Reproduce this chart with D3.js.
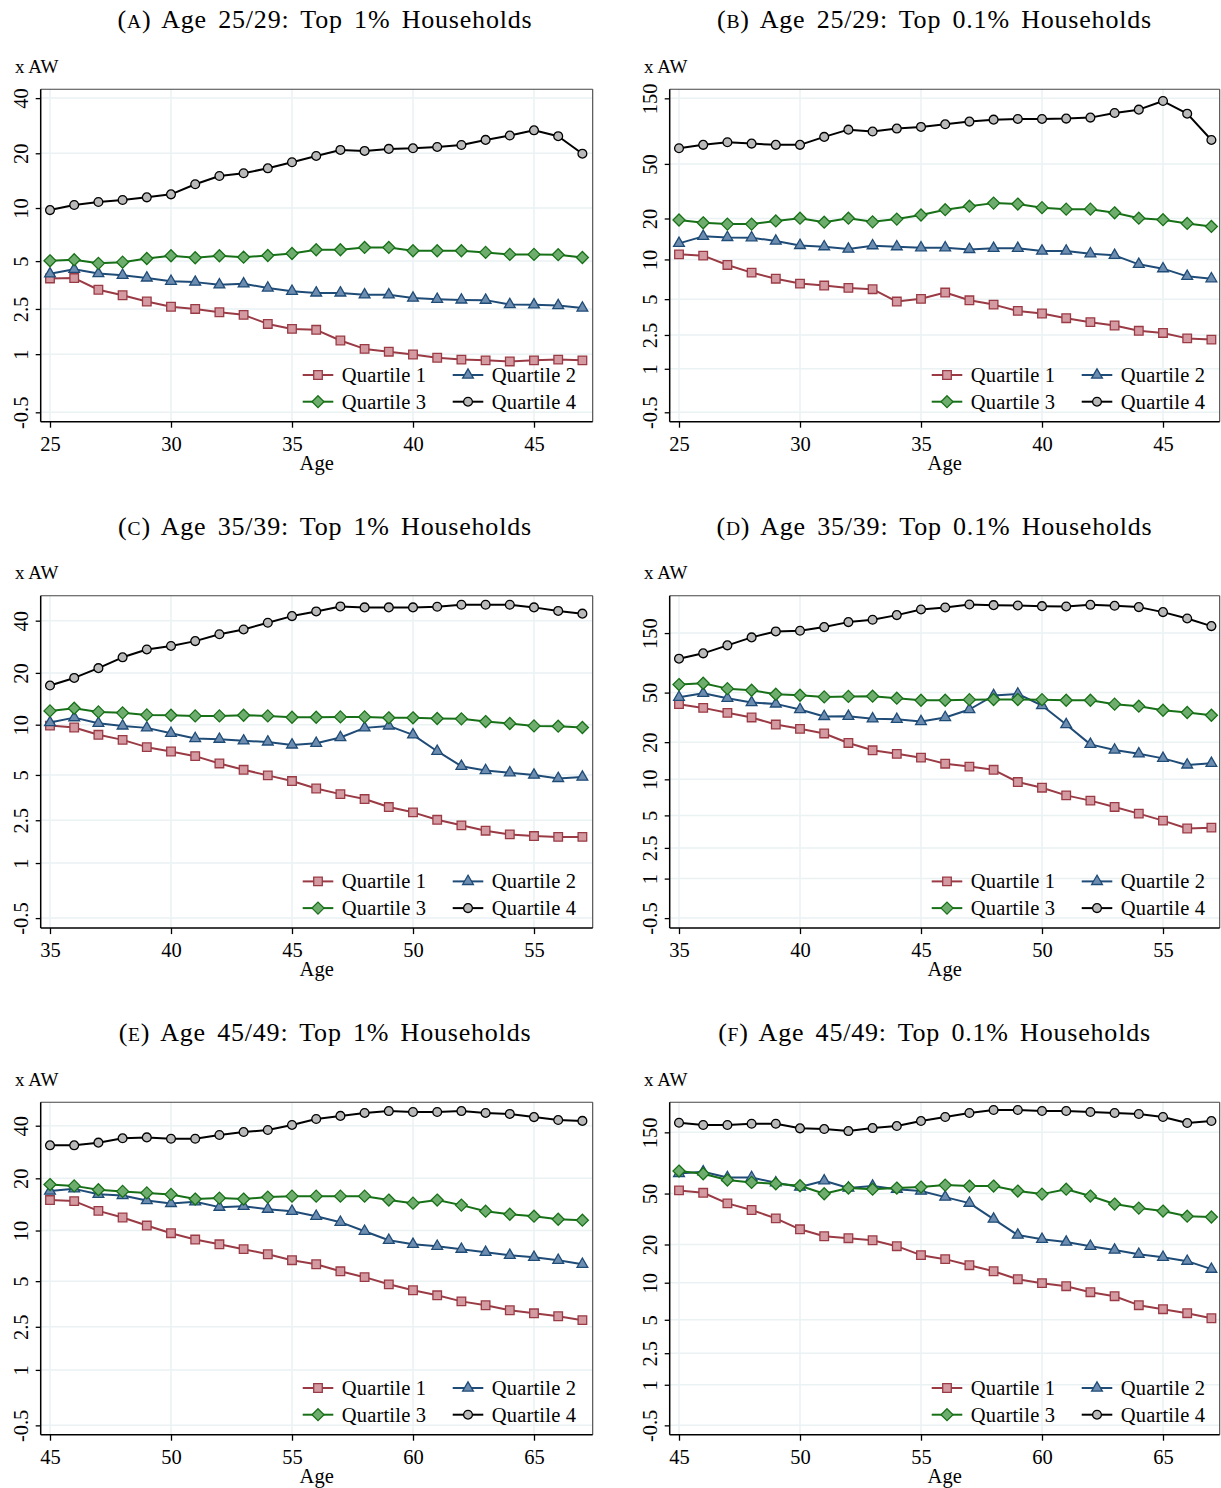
<!DOCTYPE html>
<html><head><meta charset="utf-8">
<script src="https://cdn.jsdelivr.net/npm/d3@7"></script>
<style>
body{margin:0;background:#fff}
svg{display:block}
text{font-family:"Liberation Serif","Times New Roman",serif;fill:#000}
</style>
</head><body>
<svg id="chart" width="1221" height="1488"></svg>
<script>
// ---------------- DATA ----------------
const seriesNames = ["Quartile 1", "Quartile 2", "Quartile 3", "Quartile 4"];
const panelLetters = ["A", "B", "C", "D", "E", "F"];
const panelTitles = [
  "Age 25/29: Top 1% Households", "Age 25/29: Top 0.1% Households",
  "Age 35/39: Top 1% Households", "Age 35/39: Top 0.1% Households",
  "Age 45/49: Top 1% Households", "Age 45/49: Top 0.1% Households"
];
const yAxisLabel = "x AW";
const xAxisLabel = "Age";

const ages25 = [25,26,27,28,29,30,31,32,33,34,35,36,37,38,39,40,41,42,43,44,45,46,47];
const ages35 = [35,36,37,38,39,40,41,42,43,44,45,46,47,48,49,50,51,52,53,54,55,56,57];
const ages45 = [45,46,47,48,49,50,51,52,53,54,55,56,57,58,59,60,61,62,63,64,65,66,67];

const xTicks25 = [25, 30, 35, 40, 45];
const xTicks35 = [35, 40, 45, 50, 55];
const xTicks45 = [45, 50, 55, 60, 65];

const yTicksTop1 = [-0.5, 1, 2.5, 5, 10, 20, 40];
const yTicksTop01 = [-0.5, 1, 2.5, 5, 10, 20, 50, 150];

// Panel A: Age 25/29, top 1%
const q1A = [3.94, 3.96, 3.35, 3.09, 2.81, 2.59, 2.50, 2.37, 2.27, 1.94, 1.77, 1.74, 1.40, 1.15, 1.07, 0.99, 0.90, 0.85, 0.83, 0.80, 0.83, 0.85, 0.83];
const q2A = [4.20, 4.47, 4.22, 4.12, 3.97, 3.79, 3.74, 3.60, 3.65, 3.44, 3.28, 3.20, 3.20, 3.11, 3.11, 2.96, 2.91, 2.88, 2.87, 2.68, 2.67, 2.64, 2.54];
const q3A = [5.02, 5.09, 4.85, 4.93, 5.18, 5.37, 5.23, 5.37, 5.27, 5.39, 5.54, 5.82, 5.82, 6.00, 6.00, 5.74, 5.74, 5.74, 5.62, 5.47, 5.47, 5.45, 5.25];
const q4A = [9.74, 10.39, 10.80, 11.08, 11.46, 11.90, 13.53, 15.02, 15.55, 16.55, 17.87, 19.34, 20.86, 20.60, 21.13, 21.30, 21.66, 22.20, 23.67, 25.00, 26.70, 24.80, 19.90];

// Panel B: Age 25/29, top 0.1%
const q1B = [10.91, 10.67, 9.10, 7.98, 7.18, 6.59, 6.37, 6.11, 5.97, 4.79, 5.03, 5.63, 4.90, 4.53, 4.03, 3.84, 3.51, 3.25, 3.04, 2.73, 2.61, 2.32, 2.26];
const q2B = [13.15, 14.80, 14.54, 14.47, 13.68, 12.70, 12.43, 11.94, 12.64, 12.43, 12.21, 12.21, 11.87, 12.08, 12.08, 11.55, 11.55, 11.03, 10.72, 9.20, 8.54, 7.48, 7.18];
const q3B = [19.5, 18.6, 18.2, 18.2, 19.2, 20.1, 18.8, 20.1, 18.9, 19.8, 21.2, 23.2, 24.6, 25.9, 25.5, 24.0, 23.4, 23.4, 22.0, 20.1, 19.6, 18.4, 17.5];
const q4B = [65.0, 68.8, 71.9, 70.3, 68.8, 68.8, 78.6, 88.8, 86.0, 90.4, 92.9, 97.1, 101.6, 105.0, 106.2, 106.2, 106.8, 108.6, 117.3, 124.1, 143.4, 116.0, 74.7];

// Panel C: Age 35/39, top 1%
const q1C = [9.88, 9.63, 8.72, 8.14, 7.37, 6.94, 6.51, 5.88, 5.38, 4.97, 4.58, 4.11, 3.78, 3.51, 3.10, 2.85, 2.52, 2.29, 2.08, 1.94, 1.88, 1.85, 1.85];
const q2C = [10.3, 11.0, 10.2, 9.84, 9.58, 8.91, 8.30, 8.22, 8.03, 7.92, 7.60, 7.78, 8.41, 9.58, 9.84, 8.72, 6.97, 5.66, 5.33, 5.16, 4.99, 4.76, 4.85];
const q3C = [12.04, 12.47, 11.88, 11.73, 11.41, 11.36, 11.26, 11.26, 11.36, 11.26, 11.05, 11.05, 11.11, 11.11, 10.97, 10.97, 10.87, 10.82, 10.43, 10.16, 9.84, 9.80, 9.63];
const q4C = [16.9, 18.7, 21.3, 24.6, 27.3, 28.6, 30.5, 33.4, 35.6, 38.9, 42.5, 45.2, 48.3, 47.7, 47.7, 47.7, 48.1, 49.4, 49.4, 49.4, 47.7, 45.5, 43.9];

// Panel D: Age 35/39, top 0.1%
const q1D = [40.4, 37.7, 34.4, 31.6, 27.7, 25.6, 23.5, 19.7, 17.2, 16.1, 15.0, 13.4, 12.7, 11.96, 9.5, 8.54, 7.38, 6.67, 5.90, 5.18, 4.50, 3.83, 3.90];
const q2D = [45.9, 49.4, 45.1, 41.6, 40.6, 36.6, 32.2, 32.3, 30.8, 30.5, 29.3, 31.6, 36.6, 47.3, 48.8, 39.4, 27.7, 19.2, 17.3, 16.1, 14.8, 13.1, 13.5];
const q3D = [58.0, 59.4, 53.8, 52.2, 48.5, 47.6, 46.2, 46.6, 46.8, 45.1, 43.4, 43.4, 43.9, 44.0, 44.0, 43.9, 43.4, 43.4, 40.4, 38.9, 36.1, 34.6, 32.9];
const q4D = [93.5, 103.2, 119.6, 138.5, 154.6, 156.6, 167.5, 183.6, 191.7, 208.9, 231.9, 240.6, 254.2, 251.0, 249.6, 246.5, 245.0, 252.6, 248.1, 242.1, 220.8, 196.4, 170.5];

// Panel E: Age 45/49, top 1%
const q1E = [15.0, 14.8, 13.0, 11.9, 10.69, 9.65, 8.86, 8.31, 7.78, 7.26, 6.69, 6.33, 5.74, 5.29, 4.78, 4.39, 4.08, 3.73, 3.52, 3.26, 3.11, 2.97, 2.79];
const q2E = [16.9, 17.4, 16.2, 15.95, 14.9, 14.35, 14.66, 13.66, 13.8, 13.3, 12.94, 12.11, 11.18, 9.91, 8.78, 8.31, 8.1, 7.78, 7.46, 7.16, 6.97, 6.69, 6.33];
const q3E = [18.42, 18.1, 17.2, 16.83, 16.5, 16.17, 15.2, 15.4, 15.2, 15.6, 15.8, 15.8, 15.8, 15.8, 15.0, 14.4, 15.0, 14.03, 12.94, 12.43, 12.11, 11.63, 11.48];
const q4E = [30.9, 30.9, 32.0, 33.9, 34.3, 33.7, 33.7, 35.4, 36.8, 37.8, 40.4, 43.7, 45.5, 47.3, 48.5, 47.9, 47.9, 48.5, 47.3, 46.7, 44.8, 43.1, 42.6];

// Panel F: Age 45/49, top 0.1%
const q1F = [52.9, 50.7, 41.9, 37.2, 32.0, 26.3, 23.2, 22.4, 21.6, 19.4, 16.5, 15.35, 13.75, 12.33, 10.66, 9.92, 9.38, 8.4, 7.8, 6.6, 6.12, 5.67, 5.15];
const q2F = [71.8, 73.9, 66.8, 66.8, 60.7, 56.2, 62.9, 55.2, 57.2, 54.1, 52.3, 46.9, 42.1, 31.6, 23.7, 22.0, 20.9, 19.4, 18.1, 16.8, 15.9, 14.8, 12.8];
const q3F = [74.9, 71.3, 63.7, 61.1, 59.6, 57.5, 49.8, 55.2, 54.1, 55.2, 56.2, 58.2, 57.2, 57.2, 52.3, 49.5, 54.1, 47.8, 41.4, 38.5, 36.5, 33.3, 32.8];
const q4F = [178.2, 171.1, 171.1, 175.0, 175.0, 161.2, 159.2, 153.5, 162.0, 168.0, 183.8, 197.5, 212.3, 224.1, 224.1, 220.1, 220.1, 216.2, 212.3, 208.5, 197.5, 177.3, 183.8];

// ---------------- PANEL TABLE (built from the arrays) ----------------
const panels = [
  {ages: ages25, xTicks: xTicks25, yTicks: yTicksTop1,  series: [q1A, q2A, q3A, q4A]},
  {ages: ages25, xTicks: xTicks25, yTicks: yTicksTop01, series: [q1B, q2B, q3B, q4B]},
  {ages: ages35, xTicks: xTicks35, yTicks: yTicksTop1,  series: [q1C, q2C, q3C, q4C]},
  {ages: ages35, xTicks: xTicks35, yTicks: yTicksTop01, series: [q1D, q2D, q3D, q4D]},
  {ages: ages45, xTicks: xTicks45, yTicks: yTicksTop1,  series: [q1E, q2E, q3E, q4E]},
  {ages: ages45, xTicks: xTicks45, yTicks: yTicksTop01, series: [q1F, q2F, q3F, q4F]}
];

// ---------------- LAYOUT / STYLE ----------------
const colLeft = [40.7, 669.7];
const colFrameW = [552, 550];
const rowTop = [89.3, 595.7, 1102.3];
const frameH = 332.4;
const xPad = 9.3, yearPx = 24.2;
// y axis is an inverse-hyperbolic-sine axis: t = asinh(v/2)
const yT = v => Math.asinh(v / 2);
const tDomains = [[-0.365, 3.80], [-0.405, 5.162], [-0.38, 4.02], [-0.432, 5.70], [-0.37, 3.997], [-0.415, 5.55]];
const titleCx = [325, 934.5];

const lineColors = ["#9a3a44", "#1f4b77", "#177017", "#000000"];
const fillColors = ["#d39aa1", "#6d8db0", "#6fad6f", "#b9b9b9"];
const gridColor = "#eaf2f3";

function markerPath(kind) {
  const p = d3.path();
  if (kind === 0) { const s = 4.3; p.moveTo(-s,-s); p.lineTo(s,-s); p.lineTo(s,s); p.lineTo(-s,s); p.closePath(); }
  else if (kind === 1) { const a = 5.4; p.moveTo(0,-6.2); p.lineTo(a,3.1); p.lineTo(-a,3.1); p.closePath(); }
  else if (kind === 2) { const r = 6.0; p.moveTo(0,-r); p.lineTo(r,0); p.lineTo(0,r); p.lineTo(-r,0); p.closePath(); }
  else { p.arc(0,0,4.4,0,2*Math.PI); p.closePath(); }
  return p.toString();
}

const svg = d3.select("#chart");
svg.append("rect").attr("width",1221).attr("height",1488).attr("fill","#fff");

panels.forEach((P, i) => {
  const col = i % 2, row = Math.floor(i / 2);
  const left = colLeft[col], top = rowTop[row];
  const W = colFrameW[col], bottom = top + frameH;
  const g = svg.append("g");

  const x = d3.scaleLinear()
    .domain([P.ages[0], P.ages[P.ages.length - 1]])
    .range([left + xPad, left + xPad + (P.ages.length - 1) * yearPx]);
  const y = d3.scaleLinear().domain(tDomains[i]).range([bottom, top]);

  // grid
  g.append("g").selectAll("line.h").data(P.yTicks).join("line")
    .attr("x1", left).attr("x2", left + W)
    .attr("y1", d => y(yT(d))).attr("y2", d => y(yT(d)))
    .attr("stroke", gridColor).attr("stroke-width", 1.5);
  g.append("g").selectAll("line.v").data(P.xTicks).join("line")
    .attr("x1", d => x(d)).attr("x2", d => x(d))
    .attr("y1", top).attr("y2", bottom)
    .attr("stroke", gridColor).attr("stroke-width", 1.5);

  // frame (top/right lighter)
  g.append("line").attr("x1", left).attr("x2", left + W).attr("y1", top).attr("y2", top)
    .attr("stroke", "#444").attr("stroke-width", 1.1);
  g.append("line").attr("x1", left + W).attr("x2", left + W).attr("y1", top).attr("y2", bottom)
    .attr("stroke", "#444").attr("stroke-width", 1.1);

  // axes
  const yAxis = d3.axisLeft(y).tickValues(P.yTicks.map(yT)).tickFormat((d, k) => String(P.yTicks[k]))
    .tickSize(5).tickSizeOuter(0).tickPadding(0);
  const ya = g.append("g").attr("transform", `translate(${left},0)`).call(yAxis);
  ya.select(".domain").attr("stroke", "#000").attr("stroke-width", 1.5).attr("d", `M0,${top}V${bottom}`);
  ya.selectAll(".tick line").attr("stroke", "#000").attr("stroke-width", 1.3);
  ya.selectAll(".tick text")
    .attr("x", -12.5).attr("y", 0).attr("dy", 0)
    .attr("transform", "rotate(-90,-12.5,0)")
    .attr("text-anchor", "middle")
    .style("font-family", '"Liberation Serif",serif').style("font-size", "20.5px");

  const xAxis = d3.axisBottom(x).tickValues(P.xTicks).tickFormat(d3.format("d"))
    .tickSize(6).tickSizeOuter(0).tickPadding(0);
  const xa = g.append("g").attr("transform", `translate(0,${bottom})`).call(xAxis);
  xa.select(".domain").attr("stroke", "#000").attr("stroke-width", 1.5).attr("d", `M${left},0H${left + W}`);
  xa.selectAll(".tick line").attr("stroke", "#000").attr("stroke-width", 1.3);
  xa.selectAll(".tick text").attr("y", 29).attr("dy", 0)
    .style("font-family", '"Liberation Serif",serif').style("font-size", "20.5px");

  // series
  const line = d3.line().x((d, k) => x(P.ages[k])).y(d => y(yT(d)));
  P.series.forEach((vals, s) => {
    g.append("path").datum(vals).attr("d", line)
      .attr("fill", "none").attr("stroke", lineColors[s]).attr("stroke-width", 2)
      .attr("stroke-linejoin", "round");
    g.append("g").selectAll("path").data(vals).join("path")
      .attr("d", markerPath(s))
      .attr("transform", (d, k) => `translate(${x(P.ages[k])},${y(yT(d))})`)
      .attr("fill", fillColors[s]).attr("stroke", lineColors[s]).attr("stroke-width", 1.3);
  });

  // legend
  const legRows = [top + 285.7, top + 312.4];
  const legCols = [left + 262, left + 412];
  seriesNames.forEach((name, s) => {
    const ly = legRows[Math.floor(s / 2)], lx = legCols[s % 2];
    g.append("line").attr("x1", lx).attr("x2", lx + 30.6).attr("y1", ly).attr("y2", ly)
      .attr("stroke", lineColors[s]).attr("stroke-width", 2);
    g.append("path").attr("d", markerPath(s)).attr("transform", `translate(${lx + 15.3},${ly})`)
      .attr("fill", fillColors[s]).attr("stroke", lineColors[s]).attr("stroke-width", 1.3);
    g.append("text").attr("x", lx + 39).attr("y", ly + 7).text(name)
      .style("font-size", "20.5px").style("letter-spacing", "0.2px");
  });

  // labels
  g.append("text").attr("x", left - 25.7).attr("y", top - 16.3).text(yAxisLabel).style("font-size", "19px");
  g.append("text").attr("x", left + W / 2).attr("y", bottom + 48).attr("text-anchor", "middle")
    .text(xAxisLabel).style("font-size", "20.5px");

  const title = g.append("text").attr("x", titleCx[col]).attr("y", top - 61).attr("text-anchor", "middle")
    .style("font-size", "26px").style("letter-spacing", "0.8px").style("word-spacing", "4px");
  title.append("tspan").text("(");
  title.append("tspan").text(panelLetters[i]).style("font-size", "19.5px");
  title.append("tspan").text(") " + panelTitles[i]);
});
</script>
</body></html>
